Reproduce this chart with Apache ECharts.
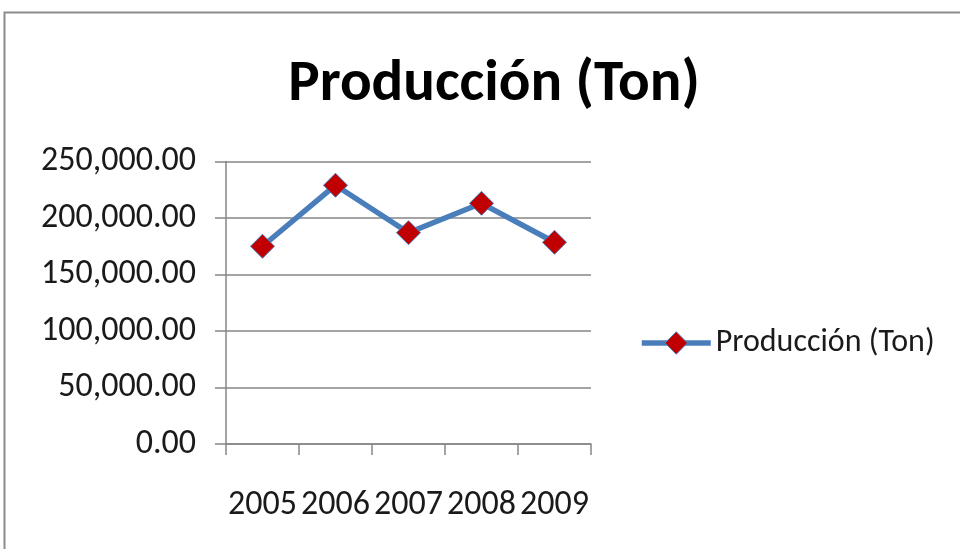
<!DOCTYPE html>
<html>
<head>
<meta charset="utf-8">
<script src="https://cdn.jsdelivr.net/npm/echarts@6/dist/echarts.min.js"></script>
<style>
  html, body { margin: 0; padding: 0; background: #fff; }
  #chart { width: 960px; height: 549px; }
</style>
</head>
<body>
<div id="chart"></div>
<script>
// Annual production in tonnes
const years = ['2005', '2006', '2007', '2008', '2009'];
const produccion = [175000, 229000, 187000, 213000, 178500];
const seriesName = 'Producción (Ton)';
const titleText = 'Producción (Ton)';

const FONT = 'Carlito, Lato, sans-serif';
const LINE_BLUE = '#4a7ebb';
const MARK_RED = '#c00000';

const chart = echarts.init(document.getElementById('chart'), null, { renderer: 'canvas' });

chart.setOption({
  backgroundColor: '#ffffff',
  animation: false,
  graphic: [{
    type: 'rect',
    shape: { x: 4.5, y: 12.5, width: 1000, height: 600 },
    style: { fill: 'none', stroke: '#8c8c8c', lineWidth: 2 },
    silent: true
  }],
  title: {
    text: titleText,
    left: 489,
    top: 51,
    textAlign: 'center',
    textStyle: { fontFamily: FONT, fontWeight: 'bold', fontSize: 59, color: '#000' }
  },
  legend: {
    data: [{
      name: seriesName,
      lineStyle: { color: LINE_BLUE, width: 5.5 },
      itemStyle: { color: MARK_RED, borderColor: LINE_BLUE, borderWidth: 1 }
    }],
    left: 639,
    top: 327,
    padding: 0,
    itemWidth: 69,
    itemHeight: 28,
    itemGap: 5,
    textStyle: { fontFamily: FONT, fontSize: 32, color: '#1a1a1a' }
  },
  grid: { left: 226, right: 369, top: 161.5, bottom: 105, containLabel: false },
  xAxis: {
    type: 'category',
    data: years,
    boundaryGap: true,
    axisLine: { lineStyle: { color: '#868686', width: 1.5 } },
    axisTick: { show: true, length: 11, alignWithLabel: false, lineStyle: { color: '#868686', width: 1.5 } },
    axisLabel: { interval: 0, margin: 44, fontFamily: FONT, fontSize: 34, color: '#1a1a1a' }
  },
  yAxis: {
    type: 'value',
    min: 0,
    max: 250000,
    interval: 50000,
    axisLine: { show: true, lineStyle: { color: '#868686', width: 1.5 } },
    axisTick: { show: true, length: 11, lineStyle: { color: '#868686', width: 1.5 } },
    splitLine: { lineStyle: { color: '#868686', width: 1.5 } },
    axisLabel: {
      margin: 30,
      fontFamily: FONT,
      fontSize: 34,
      color: '#1a1a1a',
      formatter: v => v.toLocaleString('en-US', { minimumFractionDigits: 2, maximumFractionDigits: 2 })
    }
  },
  series: [{
    name: seriesName,
    type: 'line',
    data: produccion,
    symbol: 'diamond',
    symbolSize: 24,
    lineStyle: { color: LINE_BLUE, width: 5.5 },
    itemStyle: { color: MARK_RED, borderColor: LINE_BLUE, borderWidth: 1 }
  }]
});
</script>
</body>
</html>
